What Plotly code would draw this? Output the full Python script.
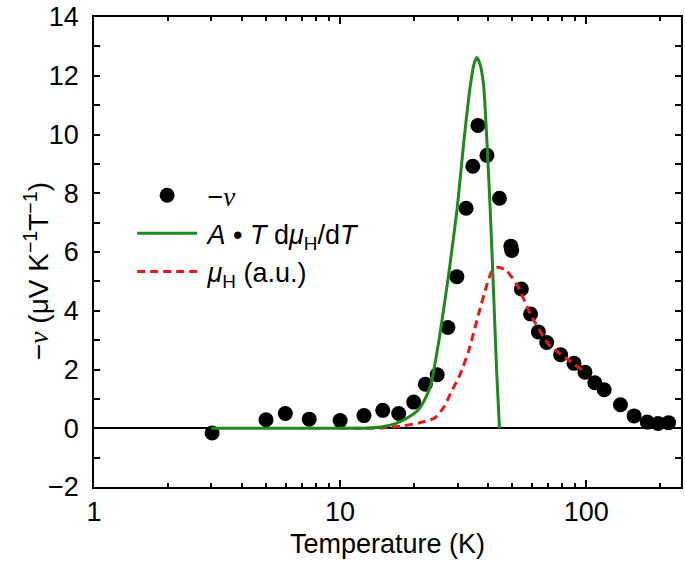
import plotly.graph_objects as go

# Measured -nu data
T_nu = [3.02, 5.0, 5.99, 7.49, 10.0, 12.5, 14.9, 17.3, 19.9, 22.2, 24.8, 27.4, 29.8,
        32.5, 34.6, 36.3, 39.5, 44.4, 49.4, 49.8, 54.5, 59.4, 63.9, 69.1, 78.7, 89.2,
        98.8, 108.4, 118.3, 137.7, 156.4, 177.0, 195.7, 216.0]
nu = [-0.16, 0.29, 0.50, 0.31, 0.26, 0.43, 0.61, 0.50, 0.89, 1.50, 1.82, 3.43, 5.16,
      7.49, 8.92, 10.31, 9.29, 7.83, 6.20, 6.05, 4.74, 3.89, 3.28, 2.92, 2.50, 2.21,
      1.91, 1.55, 1.31, 0.80, 0.42, 0.21, 0.16, 0.19]

# A*T dmu_H/dT curve
T_fit = [3, 8, 12, 13.1, 15, 16.8, 19.0, 20.9, 22.3, 23.3, 25.2, 27.6, 29.9, 31.8,
         33.8, 35.0, 35.9, 37.0, 38.3, 39.5, 40.7, 42.0, 43.3, 44.4]
fit = [0, 0, 0.0, 0.01, 0.06, 0.16, 0.38, 0.65, 1.05, 1.45, 2.98, 5.23, 7.49, 9.74,
       11.66, 12.4, 12.62, 12.4, 11.66, 9.74, 7.49, 4.67, 1.85, 0]

# mu_H (a.u.) curve
T_mu = [10, 13.5, 15.8, 17.9, 20.9, 24.2, 26.4, 28.5, 30.8, 33.3, 36.5, 39.5, 41.4,
        44.0, 47.6, 53.1, 59.6, 70.2, 82.0, 98.8]
mu = [0, 0.0, 0.03, 0.08, 0.18, 0.35, 0.72, 1.29, 1.85, 2.64, 3.88, 4.89, 5.35,
      5.48, 5.35, 4.78, 3.85, 2.87, 2.41, 1.91]

x_major = [1, 10, 100]
x_minor = [2, 3, 4, 5, 6, 7, 8, 9, 20, 30, 40, 50, 60, 70, 80, 90, 200]
y_major = [-2, 0, 2, 4, 6, 8, 10, 12, 14]
y_minor = [-1, 1, 3, 5, 7, 9, 11, 13]

SERIF = "Liberation Serif"
FONT = "Liberation Sans"
FS = 27
TS = "\u2009"  # thin space to offset legend labels from their symbols

fig = go.Figure()
fig.add_trace(go.Scatter(
    x=T_nu, y=nu, mode="markers",
    marker=dict(color="black", size=15),
    name=f"{TS}−<span style='font-family:{SERIF}'><i>ν</i></span>",
    legendrank=1,
))
fig.add_trace(go.Scatter(
    x=T_mu, y=mu, mode="lines",
    line=dict(color="#e8191c", width=3, dash="8px,5px", shape="spline", smoothing=0.6),
    name=f"{TS}<i>μ</i><sub>H</sub> (a.u.)",
    legendrank=3,
))
fig.add_trace(go.Scatter(
    x=T_fit, y=fit, mode="lines",
    line=dict(color="#1e8a1e", width=3, shape="spline", smoothing=0.5),
    name=f"{TS}<i>A</i> • <i>T</i> d<i>μ</i><sub>H</sub>/d<i>T</i>",
    legendrank=2,
))

fig.update_layout(
    width=685, height=567,
    margin=dict(l=94, r=2, t=14, b=80),
    paper_bgcolor="white", plot_bgcolor="white",
    font=dict(family=FONT, size=FS, color="black"),
    showlegend=True,
    legend=dict(x=0.065, y=0.672, xanchor="left", yanchor="top",
                bgcolor="rgba(0,0,0,0)", font=dict(size=FS),
                itemwidth=60),
    annotations=[dict(
        text=f"−<span style='font-family:{SERIF}'><i>ν</i></span> (μV K<sup>−1</sup>T<sup>−1</sup>)",
        xref="paper", yref="paper", x=-0.098, y=0.46,
        xanchor="center", yanchor="middle", textangle=-90, showarrow=False,
        font=dict(size=28),
    )],
)
fig.update_xaxes(
    type="log", range=[0, 2.385],
    tickvals=x_major, ticktext=[str(v) for v in x_major],
    ticks="inside", ticklen=7, tickwidth=1.5, tickcolor="black",
    minor=dict(tickvals=x_minor, ticks="inside", ticklen=4, tickwidth=1.5, tickcolor="black"),
    showline=True, linecolor="black", linewidth=1.5, mirror="ticks",
    showgrid=False, zeroline=False, ticklabeloverflow="allow",
    title=dict(text="Temperature (K)", font=dict(size=FS), standoff=8),
    tickfont=dict(size=FS),
)
fig.update_yaxes(
    range=[-2, 14],
    tickmode="array", tickvals=y_major, ticktext=[str(v).replace("-", "−") for v in y_major],
    ticks="inside", ticklen=6, tickwidth=1.5, tickcolor="black",
    minor=dict(tickvals=y_minor, ticks="inside", ticklen=6, tickwidth=1.5, tickcolor="black"),
    showline=True, linecolor="black", linewidth=1.5, mirror="ticks",
    showgrid=False, ticklabeloverflow="allow",
    zeroline=True, zerolinecolor="black", zerolinewidth=1.5,
    ticklabelstandoff=8,
    tickfont=dict(size=FS),
)

# remove the browser's default 8px page margin so the figure fills the window
fig.write_html("out.html", config={"displayModeBar": False},
               post_script="document.body.style.margin='0';")
